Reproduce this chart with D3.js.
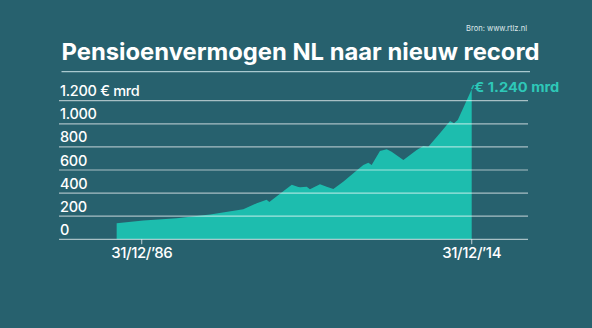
<!DOCTYPE html>
<html><head><meta charset="utf-8">
<script src="https://cdn.jsdelivr.net/npm/d3@7/dist/d3.min.js"></script>
<style>html,body{margin:0;padding:0;background:#27616e;}svg{display:block;}</style>
</head><body>
<svg id="c" width="592" height="328"></svg>
<script>
const dates = ["1984-11-15","1987-02-20","1989-12-20","1992-10-20","1995-08-15","1996-10-05","1997-08-05","1997-10-30","1998-09-25","1999-09-25","2000-04-15","2000-06-10","2001-01-01","2001-04-10","2002-02-15","2002-09-10","2003-04-05","2004-02-05","2004-12-15","2005-10-20","2006-03-25","2006-07-05","2007-03-20","2007-10-15","2008-03-15","2009-03-15","2010-05-01","2010-11-25","2011-04-25","2012-04-20","2013-03-01","2013-07-01","2013-10-25","2014-05-25","2014-12-31"];
const values = [139,162,183,214,261,313,342,322,394,472,452,450,455,433,476,455,435,499,571,643,663,643,764,779,758,686,773,808,802,918,1024,1004,1033,1163,1300];
const yTickValues = [0,200,400,600,800,1000,1200];
const yTickLabels = ["0","200","400","600","800","1.000","1.200 € mrd"];
const xTickDates = ["1986-12-31","2014-12-31"];
const xTickLabels = ["31/12/\u201986","31/12/\u201914"];
const title = "Pensioenvermogen NL naar nieuw record";
const source = "Bron: www.rtlz.nl";
const lastLabel = "€ 1.240 mrd";

const parse = d3.timeParse("%Y-%m-%d");
const data = dates.map((d,i)=>({date:parse(d), value:values[i]}));
const svg = d3.select("#c");
const font = "Inter, 'Noto Sans', sans-serif";

const x = d3.scaleTime().domain([parse("1986-12-31"), parse("2014-12-31")]).range([141.7, 471.7]);
const y = d3.scaleLinear().domain([0,1200]).range([239.3, 100.7]);

svg.append("rect").attr("width",592).attr("height",328).attr("fill","#27616e");

// source
svg.append("text").attr("x",466).attr("y",31).attr("fill","#dfe8ea")
  .attr("font-family",font).attr("font-size",8).attr("textLength",61).attr("lengthAdjust","spacingAndGlyphs").text(source);

// title
svg.append("text").attr("x",61.5).attr("y",60).attr("fill","#ffffff")
  .attr("font-family",font).attr("font-weight",700).attr("font-size",23.5)
  .attr("textLength",478).attr("lengthAdjust","spacingAndGlyphs").text(title);
svg.append("line").attr("x1",61.5).attr("x2",530).attr("y1",71.7).attr("y2",71.7)
  .attr("stroke","#a9c9cf").attr("stroke-width",1.2);

// area
const area = d3.area().x(d=>x(d.date)).y0(y(0)).y1(d=>y(d.value)).curve(d3.curveLinear);
svg.append("path").datum(data).attr("d",area).attr("fill","#1dbdae");

// leader from peak to label
const last = data[data.length-1];
svg.append("line").attr("x1",x(last.date)).attr("y1",y(last.value))
  .attr("x2",x(last.date)+2).attr("y2",y(last.value)-4)
  .attr("stroke","#1dbdae").attr("stroke-width",1.5);

// gridlines
svg.append("g").selectAll("line").data(yTickValues).join("line")
  .attr("x1",59).attr("x2",528).attr("y1",d=>y(d)).attr("y2",d=>y(d))
  .attr("stroke","#ffffff").attr("stroke-opacity",0.6).attr("stroke-width",1.2);

// y labels
svg.append("g").selectAll("text").data(yTickValues).join("text")
  .attr("x",60).attr("y",d=>y(d)-4.5).attr("fill","#ffffff")
  .attr("font-family",font).attr("font-weight",500).attr("font-size",14.5)
  .attr("letter-spacing",-0.3)
  .text((d,i)=>yTickLabels[i]);

// x ticks
const xg = svg.append("g");
xg.selectAll("line").data(xTickDates).join("line")
  .attr("x1",d=>x(parse(d))).attr("x2",d=>x(parse(d)))
  .attr("y1",y(0)).attr("y2",y(0)+5)
  .attr("stroke","#ffffff").attr("stroke-opacity",0.6).attr("stroke-width",1.2);
xg.selectAll("text").data(xTickDates).join("text")
  .attr("x",d=>x(parse(d))).attr("y",258).attr("text-anchor","middle").attr("fill","#ffffff")
  .attr("font-family",font).attr("font-weight",500).attr("font-size",15)
  .attr("letter-spacing",-0.4)
  .text((d,i)=>xTickLabels[i]);

// last value label
svg.append("text").attr("x",474.3).attr("y",92.3).attr("fill","#2ec8b8")
  .attr("font-family",font).attr("font-weight",700).attr("font-size",13)
  .attr("textLength",85).attr("lengthAdjust","spacingAndGlyphs").text(lastLabel);
</script>
</body></html>
